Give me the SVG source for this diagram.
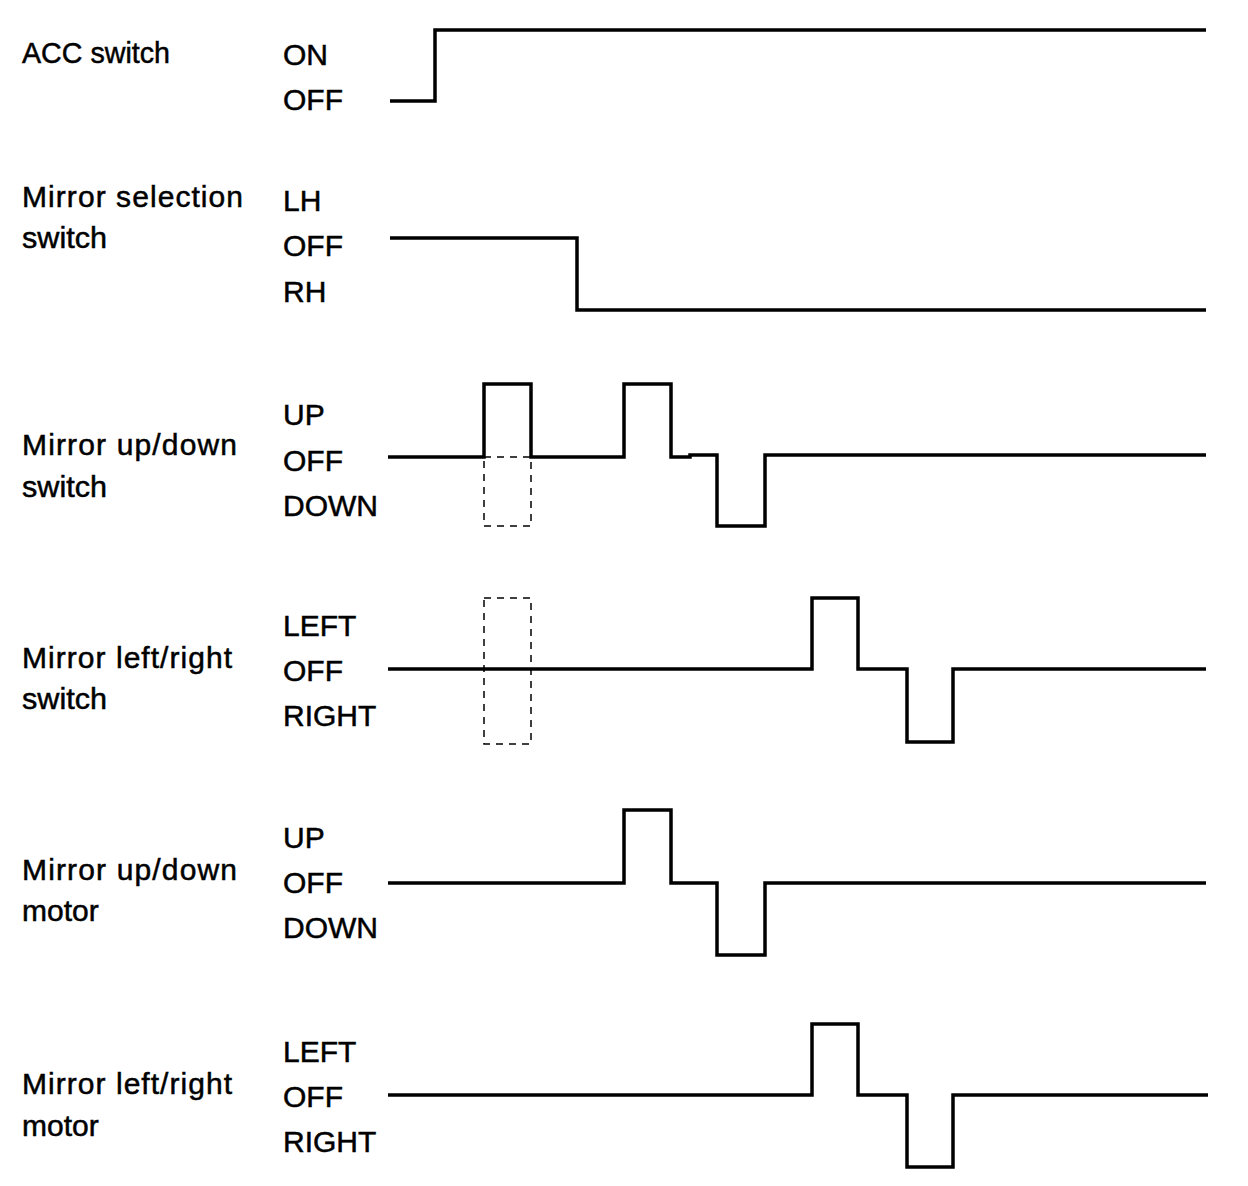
<svg xmlns="http://www.w3.org/2000/svg" width="1248" height="1186" viewBox="0 0 1248 1186">
<style>
text{font-family:"Liberation Sans",Arial,sans-serif;font-size:30px;fill:#000;stroke:#000;stroke-width:0.5}
.w{fill:none;stroke:#000;stroke-width:3.5;stroke-linejoin:miter}
.d{fill:none;stroke:#000;stroke-width:1.5;stroke-dasharray:7,6}
</style>
<rect width="1248" height="1186" fill="#fff"/>
<g id="acc">
<text x="22" y="63" textLength="148" lengthAdjust="spacingAndGlyphs">ACC switch</text>
<text x="283" y="65">ON</text>
<text x="283" y="110">OFF</text>
<path class="w" d="M390,101 H435 V30 H1206"/>
</g>
<g id="sel">
<text x="22" y="207" textLength="221" lengthAdjust="spacing">Mirror selection</text>
<text x="22" y="248" textLength="85" lengthAdjust="spacingAndGlyphs">switch</text>
<text x="283" y="211">LH</text>
<text x="283" y="256">OFF</text>
<text x="283" y="302">RH</text>
<path class="w" d="M390,238 H577 V310 H1206"/>
</g>
<g id="udsw">
<text x="22" y="455" textLength="215" lengthAdjust="spacing">Mirror up/down</text>
<text x="22" y="497" textLength="85" lengthAdjust="spacingAndGlyphs">switch</text>
<text x="283" y="425">UP</text>
<text x="283" y="471">OFF</text>
<text x="283" y="516">DOWN</text>
<path class="w" d="M388,457 H484 V384 H531 V457 H624 V384 H671 V457 H690 V455 H717 V526 H765 V455 H1206"/>
<rect class="d" x="484" y="457" width="47" height="69"/>
</g>
<g id="lrsw">
<text x="22" y="668" textLength="210" lengthAdjust="spacing">Mirror left/right</text>
<text x="22" y="709" textLength="85" lengthAdjust="spacingAndGlyphs">switch</text>
<text x="283" y="636">LEFT</text>
<text x="283" y="681">OFF</text>
<text x="283" y="726">RIGHT</text>
<rect class="d" x="484" y="598" width="47" height="146"/>
<path class="w" d="M388,669 H812 V598 H858 V669 H907 V742 H953 V669 H1206"/>
</g>
<g id="udm">
<text x="22" y="880" textLength="215" lengthAdjust="spacing">Mirror up/down</text>
<text x="22" y="921">motor</text>
<text x="283" y="848">UP</text>
<text x="283" y="893">OFF</text>
<text x="283" y="938">DOWN</text>
<path class="w" d="M388,883 H624 V810 H671 V883 H717 V955 H765 V883 H1206"/>
</g>
<g id="lrm">
<text x="22" y="1094" textLength="210" lengthAdjust="spacing">Mirror left/right</text>
<text x="22" y="1136">motor</text>
<text x="283" y="1062">LEFT</text>
<text x="283" y="1107">OFF</text>
<text x="283" y="1152">RIGHT</text>
<path class="w" d="M388,1095 H812 V1024 H858 V1095 H907 V1167 H953 V1095 H1208"/>
</g>
</svg>
